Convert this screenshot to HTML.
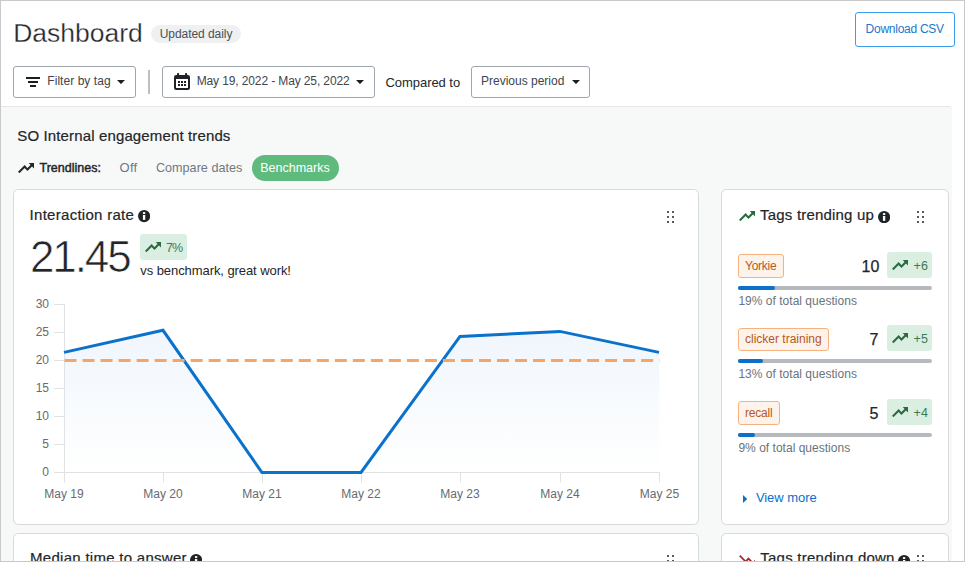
<!DOCTYPE html>
<html>
<head>
<meta charset="utf-8">
<title>Dashboard</title>
<style>
*{box-sizing:border-box;margin:0;padding:0}
html,body{width:965px;height:562px;overflow:hidden;background:#fff}
body{font-family:"Liberation Sans",sans-serif;color:#232629;position:relative}
.abs{position:absolute}
.t{position:absolute;white-space:nowrap;line-height:1}
#frame{position:absolute;left:0;top:0;width:965px;height:562px;border:1px solid #c9c9c9;z-index:50;pointer-events:none}
.btn{position:absolute;border:1px solid #9fa6ad;border-radius:3px;background:#fff}
.card{position:absolute;background:#fff;border:1px solid #d6d9dc;border-radius:5.5px}
.tag{position:absolute;border:1px solid #f5b180;background:#fef3eb;border-radius:3px}
.up{position:absolute;background:#dbeee2;border-radius:3px}
.bar{position:absolute;height:4px;border-radius:2px;background:#b6babf}
.bar i{position:absolute;left:0;top:0;height:4px;border-radius:2px;background:#0a70c9}
</style>
</head>
<body>
<div class="t" id="title" style="left:13.20px;top:19.77px;font-size:26.5px;color:#232629;letter-spacing:0px;-webkit-text-stroke:0.3px #fff;">Dashboard</div>
<div class="abs" style="left:151px;top:25px;width:90px;height:18px;border-radius:9px;background:#eef0f1"></div>
<div class="t" id="updt" style="left:159.70px;top:28.44px;font-size:12px;color:#4a5056;letter-spacing:-0.05px;">Updated daily</div>
<div class="btn" style="left:855px;top:12px;width:100px;height:35px;border-color:#3c9fee"></div>
<div class="t" id="dl" style="left:865.60px;top:23.44px;font-size:12px;color:#2277cc;letter-spacing:-0.26px;">Download CSV</div>
<div class="btn" style="left:13px;top:66px;width:123px;height:32px"></div>
<svg class="abs" style="left:26px;top:77px" width="14" height="10" viewBox="0 0 14 10"><path d="M0 0h14v2H0zM2 4h10v2H2zM4 8h6v2H4z" fill="#1b1e21"/></svg>
<div class="t" id="fbt" style="left:47.30px;top:74.84px;font-size:12px;color:#40464c;letter-spacing:0.05px;">Filter by tag</div>
<svg class="abs" style="left:117px;top:80px" width="8" height="4.1" viewBox="0 0 8 4.1"><path d="M0 0h8L4 4.1z" fill="#1b1e21"/></svg>
<div class="abs" style="left:148px;top:70px;width:2px;height:24px;background:#babfc4"></div>
<div class="btn" style="left:162px;top:66px;width:213px;height:32px"></div>
<svg class="abs" style="left:174px;top:73px" width="16" height="17" viewBox="0 0 16 17"><rect x="3" y="0" width="2.1" height="4" rx="0.8" fill="#1f2326"/><rect x="11" y="0" width="2.1" height="4" rx="0.8" fill="#1f2326"/><rect x="0" y="2.1" width="16" height="14.9" rx="2.2" fill="#1f2326"/><rect x="2" y="6" width="12" height="9" fill="#fff"/><path d="M4 8h2v2H4zM7 8h2v2H7zM10 8h2v2h-2zM4 11h2v2H4zM7 11h2v2H7zM10 11h2v2h-2z" fill="#1f2326"/></svg>
<div class="t" id="dr" style="left:196.70px;top:74.84px;font-size:12px;color:#40464c;letter-spacing:-0.12px;">May 19, 2022 - May 25, 2022</div>
<svg class="abs" style="left:356px;top:80px" width="8" height="4.1" viewBox="0 0 8 4.1"><path d="M0 0h8L4 4.1z" fill="#1b1e21"/></svg>
<div class="t" id="cmp" style="left:385.50px;top:75.80px;font-size:13px;color:#232629;letter-spacing:-0.05px;">Compared to</div>
<div class="btn" style="left:471px;top:66px;width:119px;height:32px"></div>
<div class="t" id="pp" style="left:481.00px;top:74.84px;font-size:12px;color:#40464c;letter-spacing:0px;">Previous period</div>
<svg class="abs" style="left:572px;top:80px" width="8" height="4.1" viewBox="0 0 8 4.1"><path d="M0 0h8L4 4.1z" fill="#1b1e21"/></svg>
<div class="abs" style="left:-6px;top:106px;width:958px;height:470px;background:#f7f8f8;border-top:1px solid #e4e6e8;border-radius:3px"></div>
<div class="t" id="so" style="left:17.30px;top:128.10px;font-size:15px;color:#232629;letter-spacing:0.135px;-webkit-text-stroke:0.2px #232629;">SO Internal engagement trends</div>
<svg class="abs" style="left:17.9px;top:162.9px" width="16.3" height="10.2" viewBox="0 0 16.3 10.2"><g><path d="M0.75 9.5L6.65 3.6L9.45 6.6L14 2" stroke="#232629" stroke-width="2.05" fill="none" stroke-linejoin="miter"/><path d="M10.7 0H16.3V5.7z" fill="#232629"/></g></svg>
<div class="t" id="tl" style="left:39.50px;top:162.22px;font-size:12.5px;color:#232629;letter-spacing:0px;-webkit-text-stroke:0.45px #232629;">Trendlines:</div>
<div class="t" id="off" style="left:119.60px;top:160.70px;font-size:13px;color:#6f7881;letter-spacing:0.25px;">Off</div>
<div class="t" id="cd" style="left:155.90px;top:161.83px;font-size:12.6px;color:#6f7881;letter-spacing:0.03px;">Compare dates</div>
<div class="abs" style="left:252px;top:155px;width:87px;height:26px;border-radius:13px;background:#5eba7d"></div>
<div class="t" id="bm" style="left:260.20px;top:162.12px;font-size:12.5px;color:#fff;letter-spacing:0px;">Benchmarks</div>
<div class="card" style="left:13px;top:189px;width:686px;height:336px"></div>
<div class="t" id="ir" style="left:29.60px;top:207.30px;font-size:15px;color:#232629;letter-spacing:0.28px;-webkit-text-stroke:0.2px #232629;">Interaction rate</div>
<svg class="abs" style="left:138px;top:210.4px" width="12.2" height="12.2" viewBox="0 0 12 12"><circle cx="6" cy="6" r="6" fill="#1f2326"/><rect x="4.85" y="4.9" width="2.3" height="4.8" fill="#fff"/><rect x="4.85" y="2.1" width="2.3" height="1.8" fill="#fff"/></svg>
<svg class="abs" style="left:667px;top:211px" width="7" height="12" viewBox="0 0 7 12"><path d="M0 0h2v2H0zM5 0h2v2H5zM0 5h2v2H0zM5 5h2v2H5zM0 10h2v2H0zM5 10h2v2H5z" fill="#525960"/></svg>
<div class="t" id="big" style="left:30.00px;top:234.85px;font-size:44px;color:#232629;letter-spacing:-2.1px;-webkit-text-stroke:0.7px #fff;">21.45</div>
<div class="up" style="left:140px;top:234px;width:47px;height:26px"></div>
<svg class="abs" style="left:145px;top:242px" width="16.3" height="10.2" viewBox="0 0 16.3 10.2"><g><path d="M0.75 9.5L6.65 3.6L9.45 6.6L14 2" stroke="#2a6a3e" stroke-width="2.05" fill="none" stroke-linejoin="miter"/><path d="M10.7 0H16.3V5.7z" fill="#2a6a3e"/></g></svg>
<div class="t" id="pct" style="left:166.00px;top:241.62px;font-size:12.5px;color:#3d7a54;letter-spacing:-1px;">7%</div>
<div class="t" id="vs" style="left:140.30px;top:264.00px;font-size:13px;color:#232629;letter-spacing:-0.075px;">vs benchmark, great work!</div>
<svg class="abs" style="left:13px;top:290px" width="686" height="220" viewBox="13 290 686 220">
<defs><linearGradient id="g" gradientUnits="userSpaceOnUse" x1="0" y1="330" x2="0" y2="472"><stop offset="0" stop-color="#f0f6fd"/><stop offset="1" stop-color="#ffffff"/></linearGradient></defs>
<path d="M64 352.4L163 330.3L262 472.5L361 472.5L460 336.4L560 331.4L659 352.4L659.5 472.5L64 472.5Z" fill="url(#g)"/>
<path d="M64.5 304V472M54 472.5H659.5M54 304.5H64M54 332.5H64M54 360.5H64M54 388.5H64M54 416.5H64M54 444.5H64M64.5 472V482.5M163.5 472V482.5M262.5 472V482.5M361.5 472V482.5M460.5 472V482.5M560.5 472V482.5M659.5 472V482.5" stroke="#e0e2e4" stroke-width="1" fill="none"/>
<path d="M54 472.5H64M64.5 472V482.5" stroke="#e0e2e4" stroke-width="1" fill="none"/>
<path d="M64 352.4L163 330.3L262 472.5L361 472.5L460 336.4L560 331.4L659 352.4" stroke="#0b72cb" stroke-width="3" fill="none" stroke-linejoin="miter"/>
<path d="M64.5 360.5H659.5" stroke="#f5a565" stroke-width="3" stroke-dasharray="12.02 6" fill="none"/>
<g font-family="Liberation Sans, sans-serif" font-size="12" fill="#666b70" text-anchor="end"><text x="49" y="308">30</text><text x="49" y="336">25</text><text x="49" y="364">20</text><text x="49" y="392">15</text><text x="49" y="420">10</text><text x="49" y="448">5</text><text x="49" y="476">0</text></g>
<g font-family="Liberation Sans, sans-serif" font-size="12" fill="#666b70" text-anchor="middle"><text x="64" y="497.8">May 19</text><text x="163" y="497.8">May 20</text><text x="262" y="497.8">May 21</text><text x="361" y="497.8">May 22</text><text x="460" y="497.8">May 23</text><text x="560" y="497.8">May 24</text><text x="659.5" y="497.8">May 25</text></g>
</svg>
<div class="card" style="left:721px;top:189px;width:228px;height:336px"></div>
<svg class="abs" style="left:739px;top:211px" width="16.3" height="10.2" viewBox="0 0 16.3 10.2"><g><path d="M0.75 9.5L6.65 3.6L9.45 6.6L14 2" stroke="#2a6a3e" stroke-width="2.05" fill="none" stroke-linejoin="miter"/><path d="M10.7 0H16.3V5.7z" fill="#2a6a3e"/></g></svg>
<div class="t" id="ttu" style="left:760.10px;top:206.60px;font-size:15px;color:#232629;letter-spacing:0.19px;-webkit-text-stroke:0.2px #232629;">Tags trending up</div>
<svg class="abs" style="left:878px;top:211px" width="12.2" height="12.2" viewBox="0 0 12 12"><circle cx="6" cy="6" r="6" fill="#1f2326"/><rect x="4.85" y="4.9" width="2.3" height="4.8" fill="#fff"/><rect x="4.85" y="2.1" width="2.3" height="1.8" fill="#fff"/></svg>
<svg class="abs" style="left:917px;top:211px" width="7" height="12" viewBox="0 0 7 12"><path d="M0 0h2v2H0zM5 0h2v2H5zM0 5h2v2H0zM5 5h2v2H5zM0 10h2v2H0zM5 10h2v2H5z" fill="#525960"/></svg>
<div class="tag" style="left:738px;top:254px;width:46px;height:24px"></div>
<div class="t" id="tg1" style="left:745.00px;top:259.74px;font-size:12px;color:#b5581e;letter-spacing:-0.26px;">Yorkie</div>
<div class="t" id="n1" style="left:861.50px;top:259.16px;font-size:16px;color:#232629;letter-spacing:0px;-webkit-text-stroke:0.25px #232629;">10</div>
<div class="up" style="left:887px;top:252px;width:45px;height:26px"></div>
<svg class="abs" style="left:892.1px;top:260px" width="16.3" height="10.2" viewBox="0 0 16.3 10.2"><g><path d="M0.75 9.5L6.65 3.6L9.45 6.6L14 2" stroke="#2a6a3e" stroke-width="2.05" fill="none" stroke-linejoin="miter"/><path d="M10.7 0H16.3V5.7z" fill="#2a6a3e"/></g></svg>
<div class="t" id="p1" style="left:913.60px;top:259.92px;font-size:12.5px;color:#3d7a54;letter-spacing:0px;">+6</div>
<div class="bar" style="left:738px;top:286px;width:194px"><i style="width:37px"></i></div>
<div class="t" id="q1" style="left:738.40px;top:294.64px;font-size:12px;color:#6a737c;letter-spacing:0.02px;">19% of total questions</div>
<div class="tag" style="left:738px;top:328px;width:91px;height:23px"></div>
<div class="t" id="tg2" style="left:745.00px;top:332.74px;font-size:12px;color:#b5581e;letter-spacing:0px;">clicker training</div>
<div class="t" id="n2" style="left:869.50px;top:332.16px;font-size:16px;color:#232629;letter-spacing:0px;-webkit-text-stroke:0.25px #232629;">7</div>
<div class="up" style="left:887px;top:325px;width:45px;height:26px"></div>
<svg class="abs" style="left:892.1px;top:333px" width="16.3" height="10.2" viewBox="0 0 16.3 10.2"><g><path d="M0.75 9.5L6.65 3.6L9.45 6.6L14 2" stroke="#2a6a3e" stroke-width="2.05" fill="none" stroke-linejoin="miter"/><path d="M10.7 0H16.3V5.7z" fill="#2a6a3e"/></g></svg>
<div class="t" id="p2" style="left:913.60px;top:333.12px;font-size:12.5px;color:#3d7a54;letter-spacing:0px;">+5</div>
<div class="bar" style="left:738px;top:359px;width:194px"><i style="width:25px"></i></div>
<div class="t" id="q2" style="left:738.40px;top:367.64px;font-size:12px;color:#6a737c;letter-spacing:0.02px;">13% of total questions</div>
<div class="tag" style="left:738px;top:401px;width:42px;height:24px"></div>
<div class="t" id="tg3" style="left:745.00px;top:406.74px;font-size:12px;color:#b5581e;letter-spacing:-0.2px;">recall</div>
<div class="t" id="n3" style="left:869.50px;top:406.16px;font-size:16px;color:#232629;letter-spacing:0px;-webkit-text-stroke:0.25px #232629;">5</div>
<div class="up" style="left:887px;top:399px;width:45px;height:26px"></div>
<svg class="abs" style="left:892.1px;top:407px" width="16.3" height="10.2" viewBox="0 0 16.3 10.2"><g><path d="M0.75 9.5L6.65 3.6L9.45 6.6L14 2" stroke="#2a6a3e" stroke-width="2.05" fill="none" stroke-linejoin="miter"/><path d="M10.7 0H16.3V5.7z" fill="#2a6a3e"/></g></svg>
<div class="t" id="p3" style="left:913.60px;top:407.12px;font-size:12.5px;color:#3d7a54;letter-spacing:0px;">+4</div>
<div class="bar" style="left:738px;top:433px;width:194px"><i style="width:17px"></i></div>
<div class="t" id="q3" style="left:738.40px;top:441.64px;font-size:12px;color:#6a737c;letter-spacing:0.02px;">9% of total questions</div>
<svg class="abs" style="left:743px;top:495px" width="4.2" height="8" viewBox="0 0 4.2 8"><path d="M0 0L4.2 4L0 8z" fill="#0a70c9"/></svg>
<div class="t" id="vm" style="left:755.90px;top:490.90px;font-size:13px;color:#0a70c9;letter-spacing:-0.05px;">View more</div>
<div class="card" style="left:13px;top:533px;width:686px;height:60px"></div>
<div class="t" id="mt" style="left:30.10px;top:550.30px;font-size:15px;color:#232629;letter-spacing:0.28px;-webkit-text-stroke:0.2px #232629;">Median time to answer</div>
<svg class="abs" style="left:189.6px;top:554.4px" width="12.2" height="12.2" viewBox="0 0 12 12"><circle cx="6" cy="6" r="6" fill="#1f2326"/><rect x="4.85" y="4.9" width="2.3" height="4.8" fill="#fff"/><rect x="4.85" y="2.1" width="2.3" height="1.8" fill="#fff"/></svg>
<svg class="abs" style="left:667px;top:555px" width="7" height="12" viewBox="0 0 7 12"><path d="M0 0h2v2H0zM5 0h2v2H5zM0 5h2v2H0zM5 5h2v2H5zM0 10h2v2H0zM5 10h2v2H5z" fill="#525960"/></svg>
<div class="card" style="left:721px;top:533px;width:228px;height:60px"></div>
<svg class="abs" style="left:739px;top:555px" width="16.3" height="10.2" viewBox="0 0 16.3 10.2"><g transform="translate(0 10.2) scale(1 -1)"><path d="M0.75 9.5L6.65 3.6L9.45 6.6L14 2" stroke="#a5262c" stroke-width="1.7" fill="none" stroke-linejoin="miter"/><path d="M10.7 0H16.3V5.7z" fill="#a5262c"/></g></svg>
<div class="t" id="ttd" style="left:760.30px;top:550.30px;font-size:15px;color:#232629;letter-spacing:0.24px;-webkit-text-stroke:0.2px #232629;">Tags trending down</div>
<svg class="abs" style="left:898.4px;top:555px" width="12.2" height="12.2" viewBox="0 0 12 12"><circle cx="6" cy="6" r="6" fill="#1f2326"/><rect x="4.85" y="4.9" width="2.3" height="4.8" fill="#fff"/><rect x="4.85" y="2.1" width="2.3" height="1.8" fill="#fff"/></svg>
<svg class="abs" style="left:917px;top:555px" width="7" height="12" viewBox="0 0 7 12"><path d="M0 0h2v2H0zM5 0h2v2H5zM0 5h2v2H0zM5 5h2v2H5zM0 10h2v2H0zM5 10h2v2H5z" fill="#525960"/></svg>
<div id="frame"></div>
</body>
</html>
